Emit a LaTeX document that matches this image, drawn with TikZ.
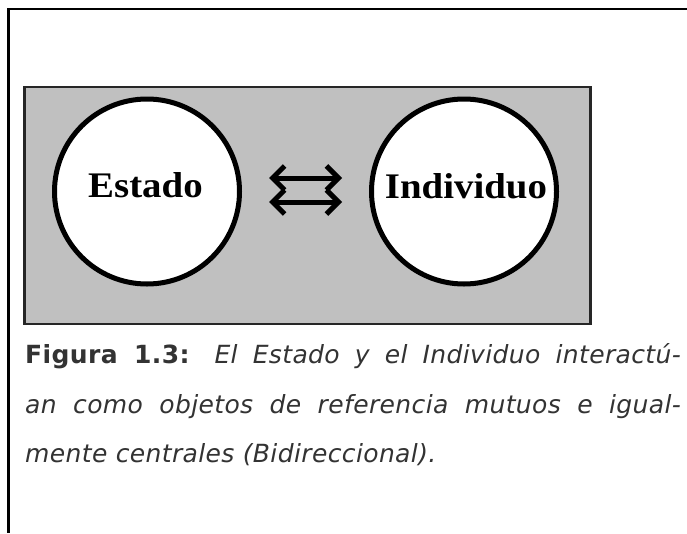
\documentclass[tikz,border=0pt]{standalone}
\usepackage{fontspec}
\setmainfont{Liberation Serif}
\newfontfamily\capfont[LetterSpace=1.5]{DejaVu Sans}
\usetikzlibrary{arrows.meta}
\definecolor{boxgray}{HTML}{C0C0C0}
\definecolor{captext}{HTML}{333333}
\tikzset{
  frameline/.style={line width=2.5pt, draw=black},
  graybox/.style={fill=boxgray, draw=black!85, line width=2.5pt},
  actor/.style={circle, draw=black, fill=white, line width=5pt, minimum size=185pt, inner sep=0pt},
  actorlabel/.style={font=\fontsize{36}{40}\selectfont\bfseries, inner sep=0pt, anchor=base},
  biarrow/.style={line width=5pt, {Straight Barb[length=12pt,width=24pt]}-{Straight Barb[length=12pt,width=24pt]}},
  capline/.style={anchor=base west, inner sep=0pt, text=captext, font=\capfont\fontsize{25}{30}\selectfont}
}
\begin{document}
\begin{tikzpicture}[x=1pt,y=-1pt]
\useasboundingbox (0,0) rectangle (687,533);
\fill[white] (0,0) rectangle (687,533);
% outer frame (top and left edges)
\coordinate (ftr) at (687,9);
\coordinate (ftl) at (8.5,9);
\coordinate (fbl) at (8.5,533);
\draw[frameline] (ftr) -- (ftl) -- (fbl);
% gray panel
\node[graybox, minimum width=566pt, minimum height=237pt, inner sep=0pt] (panel) at (307.5,205.5) {};
% circles
\node[actor] (estado) at (147,191.5) {};
\node[actor] (individuo) at (464,191.5) {};
\node[actorlabel] (estadolbl) at (145.5,197) {\scalebox{1.08}[1]{Estado}};
\node[actorlabel] (individuolbl) at (466,198) {\scalebox{1.08}[1]{Individuo}};
% arrows
\coordinate (a1l) at (269,178);
\coordinate (a1r) at (342,178);
\coordinate (a2l) at (269,202);
\coordinate (a2r) at (342,202);
\draw[biarrow] (a1l) -- (a1r);
\draw[biarrow] (a2l) -- (a2r);
% caption
\node[capline] (cap1) at (25,363) {\makebox[656pt][s]{\textbf{Figura 1.3:} \textit{El Estado y el Individuo interactú-}}};
\node[capline] (cap2) at (25,413) {\makebox[656pt][s]{\textit{an como objetos de referencia mutuos e igual-}}};
\node[capline] (cap3) at (25,462) {\textit{mente centrales (Bidireccional).}};
\end{tikzpicture}
\end{document}
